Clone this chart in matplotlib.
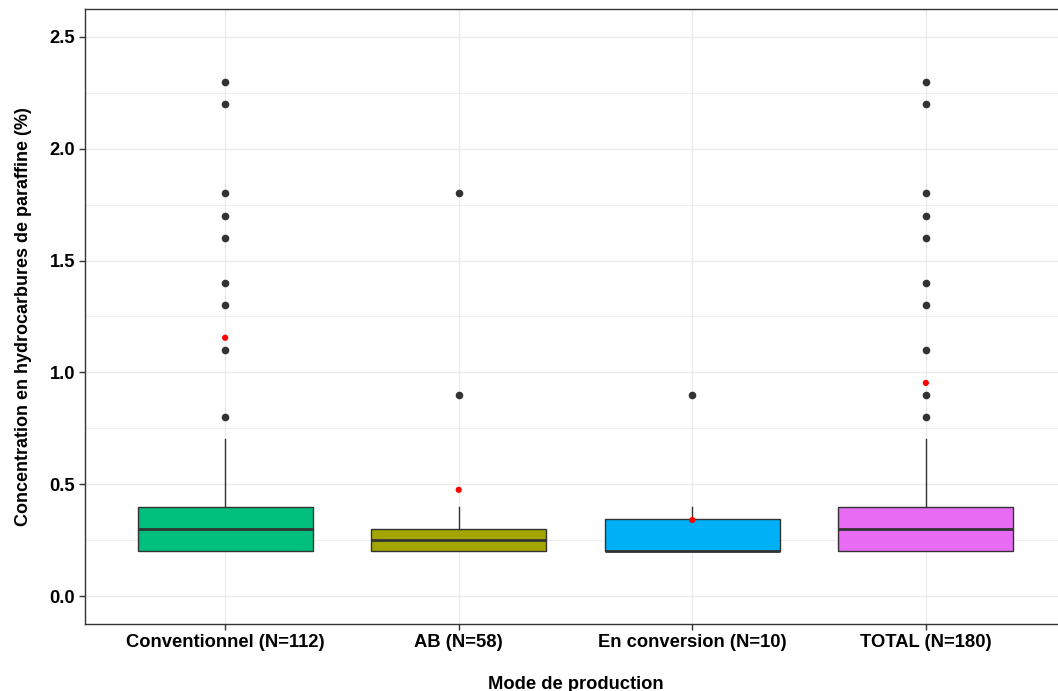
import matplotlib
matplotlib.use("Agg")
import matplotlib.pyplot as plt
from matplotlib.ticker import MultipleLocator

plt.rcParams["font.family"] = ["Liberation Sans", "DejaVu Sans"]

# ===============================
# DATA
# ===============================
categories = ["Conventionnel (N=112)", "AB (N=58)", "En conversion (N=10)", "TOTAL (N=180)"]
q1 = [0.2, 0.2, 0.2, 0.2]
medians = [0.3, 0.25, 0.2, 0.3]
q3 = [0.4, 0.3, 0.345, 0.4]
whisker_low = [0.2, 0.2, 0.2, 0.2]
whisker_high = [0.7, 0.4, 0.4, 0.7]
outliers = [
    [0.8, 1.1, 1.3, 1.4, 1.6, 1.7, 1.8, 2.2, 2.3],
    [0.9, 1.8],
    [0.9],
    [0.8, 0.9, 1.1, 1.3, 1.4, 1.6, 1.7, 1.8, 2.2, 2.3],
]
means = [1.155, 0.475, 0.34, 0.953]
box_colors = ["#00BF7D", "#A3A500", "#00B0F6", "#E76BF3"]

# ===============================
# FIGURE
# ===============================
fig = plt.figure(figsize=(10.58, 6.91), dpi=100)
ax = fig.add_axes([85 / 1058, 67 / 691, (1066 - 85) / 1058, (624 - 9) / 691])

positions = list(range(1, len(categories) + 1))
stats = []
for i in range(len(categories)):
    stats.append({
        "med": medians[i],
        "q1": q1[i],
        "q3": q3[i],
        "whislo": whisker_low[i],
        "whishi": whisker_high[i],
        "fliers": outliers[i],
    })

bp = ax.bxp(
    stats,
    positions=positions,
    widths=0.75,
    patch_artist=True,
    showcaps=False,
    boxprops=dict(edgecolor="#333333", linewidth=1.0),
    medianprops=dict(color="#333333", linewidth=2.0),
    whiskerprops=dict(color="#333333", linewidth=1.0),
    flierprops=dict(marker="o", markerfacecolor="#333333", markeredgecolor="#333333",
                    markersize=4.5, linestyle="none"),
    zorder=3,
)
for patch, c in zip(bp["boxes"], box_colors):
    patch.set_facecolor(c)

ax.scatter(positions, means, s=20, color="red", zorder=5, edgecolors="none")

# ---- axes styling (ggplot theme_bw look) ----
ax.set_xlim(0.4, len(categories) + 0.6)
ax.set_ylim(-0.125, 2.625)
ax.set_xticks(positions)
ax.set_xticklabels(categories, fontsize=13.2, fontweight="bold")
ax.yaxis.set_major_locator(MultipleLocator(0.5))
ax.yaxis.set_minor_locator(MultipleLocator(0.25))
ax.set_yticklabels([f"{v:.1f}" for v in ax.get_yticks()], fontsize=13.2, fontweight="bold")

ax.grid(True, which="major", color="#EBEBEB", linewidth=1.0, zorder=0)
ax.grid(True, which="minor", axis="y", color="#EBEBEB", linewidth=0.6, zorder=0)
ax.set_axisbelow(True)
ax.tick_params(axis="both", which="major", length=4, color="#333333", width=1.0, pad=3)
ax.tick_params(axis="y", which="minor", length=0)
for sp in ax.spines.values():
    sp.set_color("#333333")
    sp.set_linewidth(1.0)

ax.set_ylabel("Concentration en hydrocarbures de paraffine (%)", fontsize=13.0,
              fontweight="bold", labelpad=13)
ax.set_xlabel("Mode de production", fontsize=13.2, fontweight="bold", labelpad=18)

fig.savefig("out.png", dpi=100)
